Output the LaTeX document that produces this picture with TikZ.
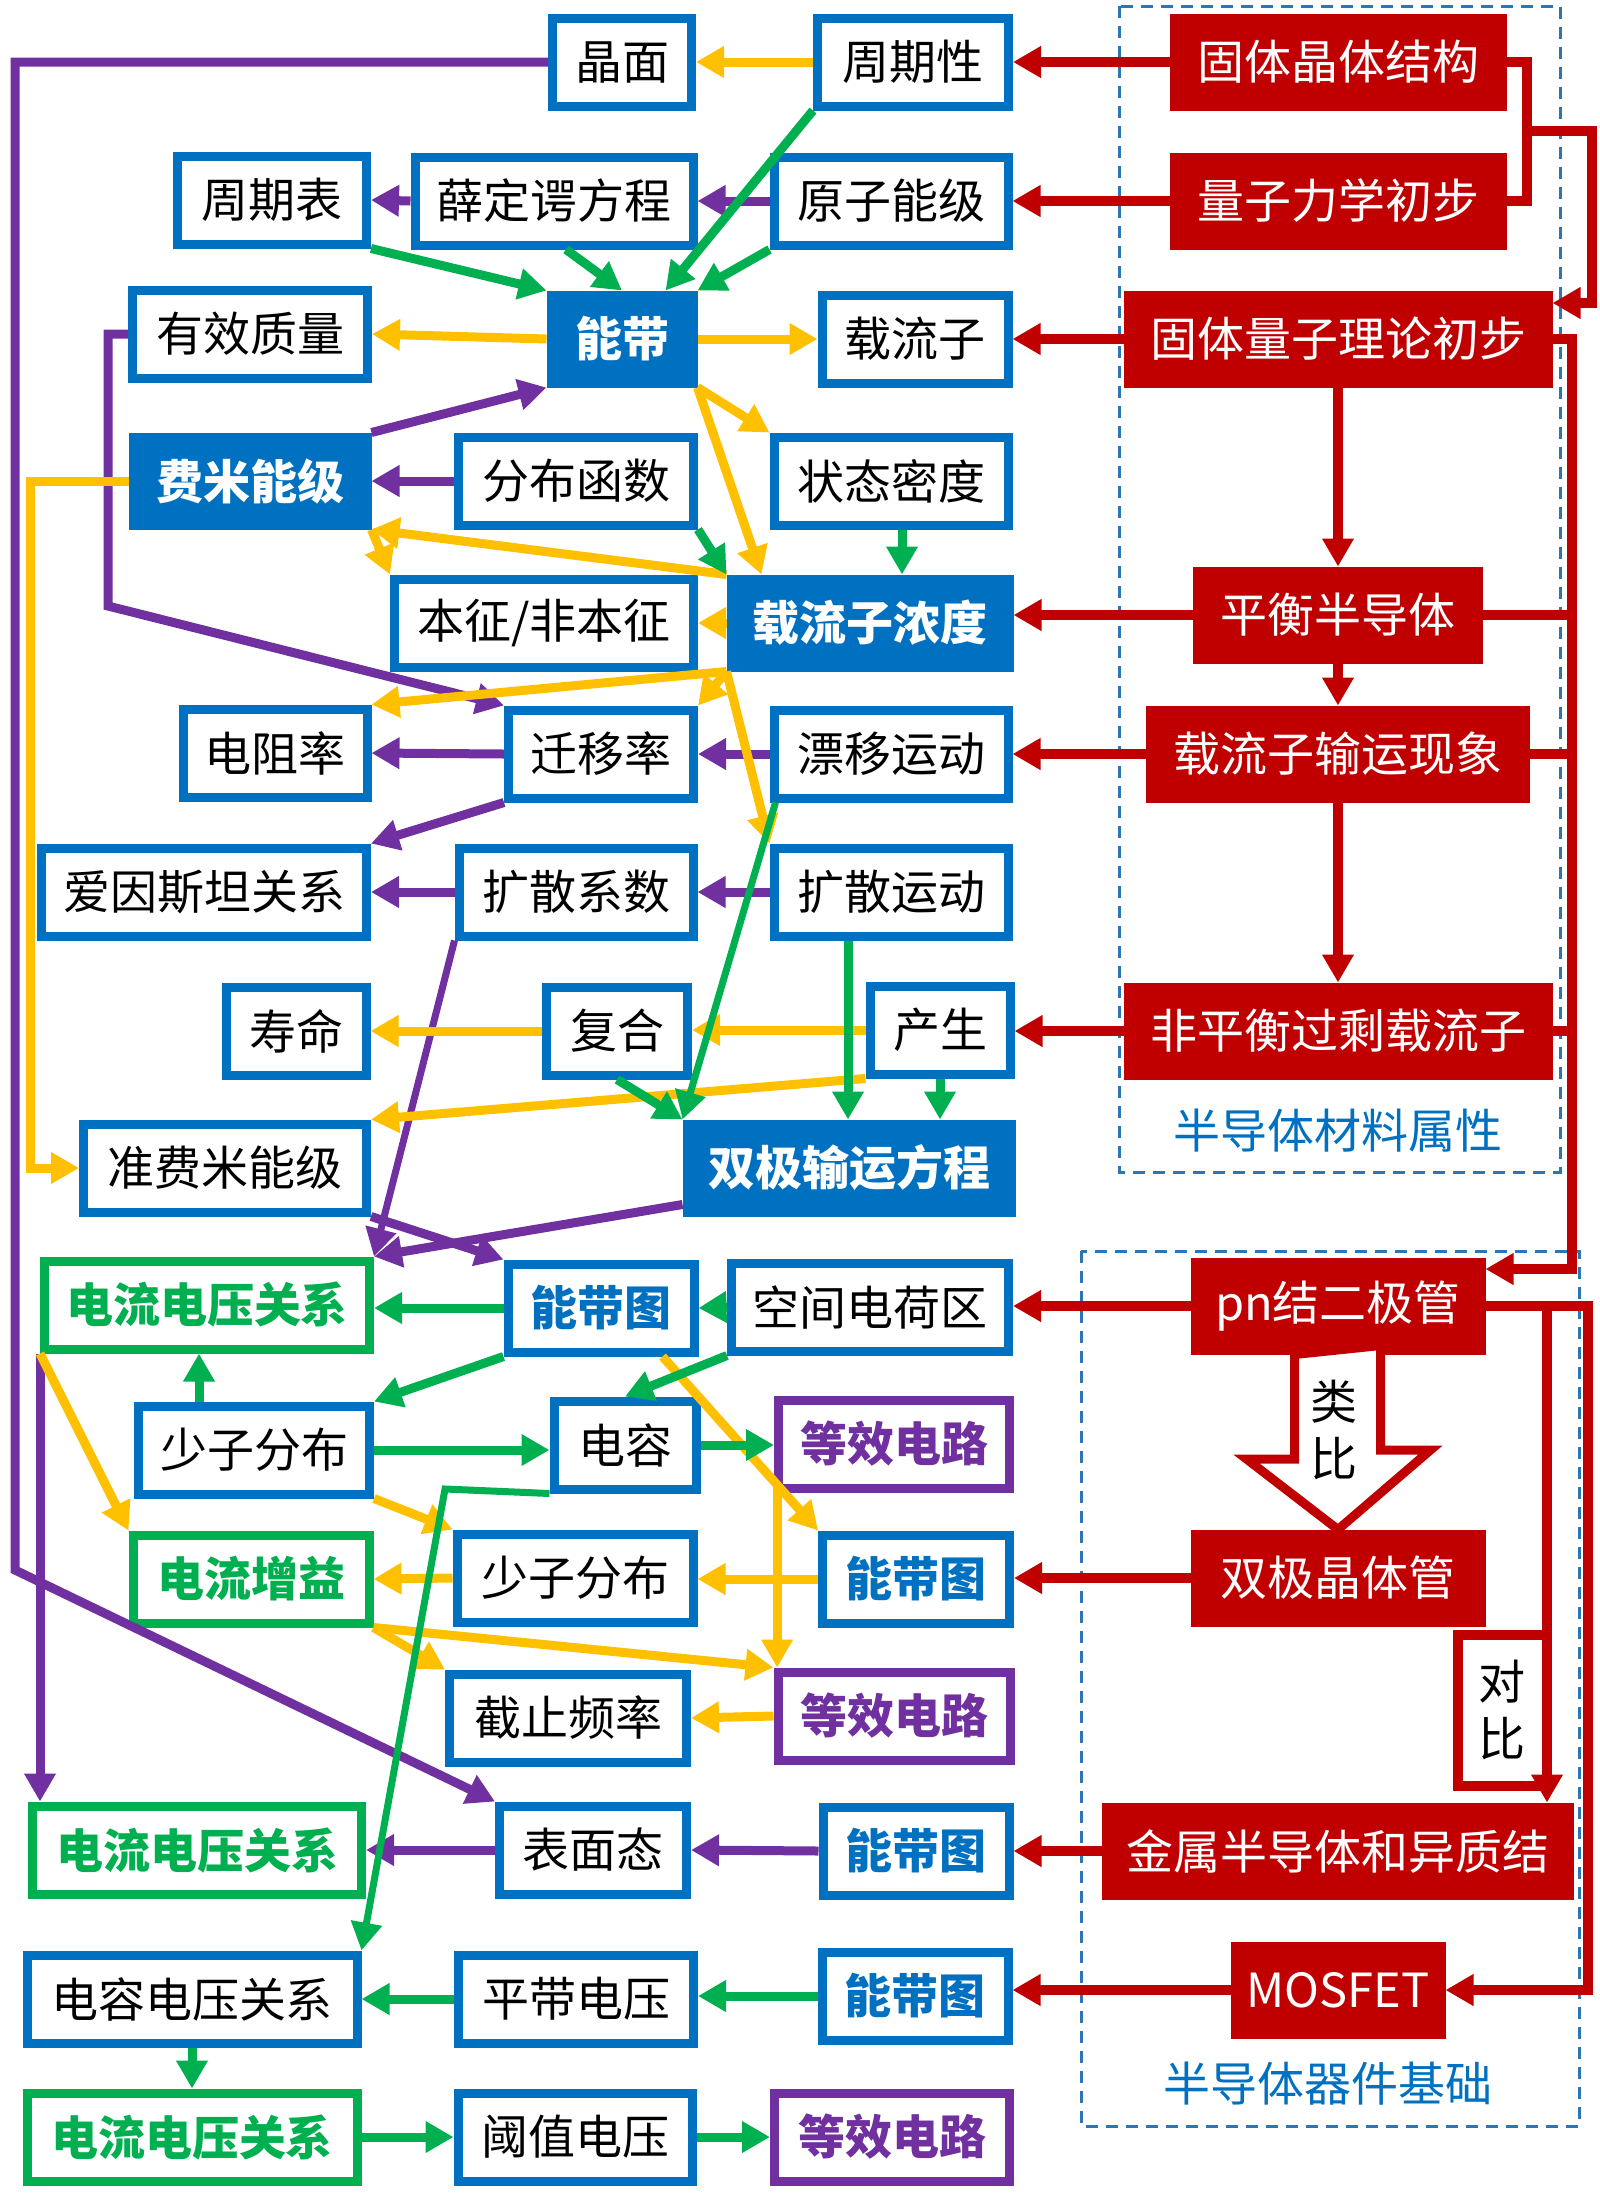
\documentclass[tikz,border=0pt]{standalone}
\usepackage{fontspec}
\setmainfont{Noto Sans CJK SC}
\usetikzlibrary{positioning,arrows.meta,calc}

\definecolor{myblue}{HTML}{0070C0}
\definecolor{myred}{HTML}{C00000}
\definecolor{mygreen}{HTML}{00B050}
\definecolor{mypurple}{HTML}{7030A0}
\definecolor{myyellow}{HTML}{FFC000}
\definecolor{dashblue}{HTML}{2E75B6}

\newcommand{\boxfont}{\fontsize{23.5}{28.5}\selectfont}

\tikzset{
  wd/.style={minimum width={(#1-9)*0.5pt}},
  box/.style={draw=myblue, line width=4.5pt, fill=white, inner sep=0pt, align=center, minimum height=44pt, font=\boxfont},
  bandbox/.style={box, text=myblue, font=\boxfont\bfseries},
  keybox/.style={box, fill=myblue, text=white, font=\boxfont\bfseries},
  gbox/.style={box, draw=mygreen, text=mygreen, font=\boxfont\bfseries},
  pbox/.style={box, draw=mypurple, text=mypurple, font=\boxfont\bfseries},
  redbox/.style={box, draw=myred, fill=myred, text=white},
  grouplbl/.style={text=myblue, font=\boxfont},
  hint/.style={align=center, font=\boxfont},
  dashbox/.style={draw=dashblue, line width=1.5pt, dash pattern=on 6pt off 4pt},
  yarr/.style={draw=myyellow, line width=4.5pt, -{Triangle[length=14pt,width=15pt]}},
  parr/.style={draw=mypurple, line width=4.5pt, -{Triangle[length=14pt,width=15pt]}},
  garr/.style={draw=mygreen, line width=4.5pt, -{Triangle[length=14pt,width=15pt]}},
  rarr/.style={draw=myred, line width=5pt, -{Triangle[length=14pt,width=15pt]}},
  rline/.style={draw=myred, line width=5pt}
}

\begin{document}
\begin{tikzpicture}[x=0.5pt,y=-0.5pt]
  \useasboundingbox (0,0) rectangle (1600,2196);

  % group frames
  \draw[dashbox] (1119,6) rectangle (1560,1172);
  \draw[dashbox] (1081,1251) rectangle (1579,2126);
  \node[grouplbl] (clsx) at (1338,1131) {半导体材料属性};
  \node[grouplbl] (qjjc) at (1328,2084) {半导体器件基础};

  % right column
  \node[redbox, wd=337] (gtjt) at (1338,62) {固体晶体结构};
  \node[redbox, wd=337] (lzlx) at (1338,201) {量子力学初步};
  \node[redbox, wd=429] (gtlz) at (1338,339) {固体量子理论初步};
  \node[redbox, wd=290] (phbdt) at (1338,615) {平衡半导体};
  \node[redbox, wd=384] (zlzsy) at (1338,754) {载流子输运现象};
  \node[redbox, wd=429] (fph) at (1338,1031) {非平衡过剩载流子};
  \node[redbox, wd=295] (pn) at (1338,1306) {pn结二极管};
  \node[redbox, wd=295] (sjjt) at (1338,1578) {双极晶体管};
  \node[redbox, wd=472] (jsbdt) at (1338,1851) {金属半导体和异质结};
  \node[redbox, wd=215] (mosfet) at (1338,1990) {MOSFET};

  % material part
  \node[box, wd=148] (jm) at (622,62) {晶面};
  \node[box, wd=200] (zqx) at (913,62) {周期性};
  \node[box, wd=198] (zqb) at (272,200) {周期表};
  \node[box, wd=287] (sdg) at (554,201) {薛定谔方程};
  \node[box, wd=243] (yznj) at (891,201) {原子能级};
  \node[box, wd=244] (yxzl) at (250,334) {有效质量};
  \node[keybox, wd=151] (nd) at (622,339) {能带};
  \node[box, wd=195] (zlz) at (915,339) {载流子};
  \node[keybox, wd=243] (fmnj) at (250,481) {费米能级};
  \node[box, wd=244] (fbhs) at (576,481) {分布函数};
  \node[box, wd=243] (ztmd) at (891,481) {状态密度};
  \node[box, wd=308] (bz) at (544,623) {本征/非本征};
  \node[keybox, wd=287] (zlznd) at (870,623) {载流子浓度};
  \node[box, wd=193] (dzl) at (275,753) {电阻率};
  \node[box, wd=194] (qyl) at (601,754) {迁移率};
  \node[box, wd=243] (pyyd) at (891,754) {漂移运动};
  \node[box, wd=334] (ays) at (204,892) {爱因斯坦关系};
  \node[box, wd=243] (ksxs) at (576,892) {扩散系数};
  \node[box, wd=243] (ksyd) at (891,892) {扩散运动};
  \node[box, wd=149] (sm) at (296,1031) {寿命};
  \node[box, wd=150] (fh) at (617,1031) {复合};
  \node[box, wd=149] (cs) at (940,1030) {产生};
  \node[box, wd=292] (zfm) at (225,1168) {准费米能级};
  \node[keybox, wd=333] (sjsy) at (849,1168) {双极输运方程};

  % device part
  \node[gbox, wd=334] (dlgx1) at (207,1305) {电流电压关系};
  \node[bandbox, wd=195] (ndt1) at (601,1308) {能带图};
  \node[box, wd=286] (kjdh) at (870,1307) {空间电荷区};
  \node[box, wd=240] (szfb1) at (254,1450) {少子分布};
  \node[box, wd=151] (dr) at (625,1445) {电容};
  \node[pbox, wd=240] (dxdl1) at (894,1444) {等效电路};
  \node[gbox, wd=245] (dlzy) at (251,1579) {电流增益};
  \node[box, wd=245] (szfb2) at (575,1578) {少子分布};
  \node[bandbox, wd=196] (ndt2) at (916,1579) {能带图};
  \node[box, wd=246] (jzpl) at (568,1718) {截止频率};
  \node[pbox, wd=241] (dxdl2) at (894,1716) {等效电路};
  \node[gbox, wd=338] (dlgx2) at (197,1850) {电流电压关系};
  \node[box, wd=196] (bmt) at (593,1850) {表面态};
  \node[bandbox, wd=195] (ndt3) at (916,1851) {能带图};
  \node[box, wd=339] (drdy) at (192,1999) {电容电压关系};
  \node[box, wd=244] (pddy) at (576,1999) {平带电压};
  \node[bandbox, wd=195] (ndt4) at (915,1996) {能带图};
  \node[gbox, wd=339] (dlgx3) at (192,2137) {电流电压关系};
  \node[box, wd=243] (yzdy) at (575,2137) {阈值电压};
  \node[pbox, wd=244] (dxdl3) at (892,2137) {等效电路};

  % analogy and comparison
  \draw[draw=myred, line width=4.5pt, fill=white] (pn.south) ++(-43.5,0) -- ++(0,104.5) -- ++(-48,0)
    -- (sjjt.north) -- ++(92.5,-79.5) -- ++(-50,0) -- ++(0,-104.5) -- cycle;
  \node[hint] (lb) at (1334,1430) {类\\比};
  \node[box, draw=myred, line width=5pt, minimum width=44.5pt, minimum height=75.5pt] (db) at (1502,1710) {对\\比};

  % red routing
  \coordinate (brk) at (1527,131);
  \coordinate (brk2) at (1592,131);
  \coordinate (rbus) at (1572,339);
  \coordinate (pnin) at ([yshift=18.5pt]pn.east);
  \coordinate (pnbus) at (1588,1307);
  \coordinate (dbbus) at (1547,1307);

  \foreach \from/\to in {gtjt.west/zqx.east, lzlx.west/yznj.east, gtlz.west/zlz.east,
      gtlz.south/phbdt.north, phbdt.south/zlzsy.north, zlzsy.south/fph.north}
    \draw[rarr] (\from) -- (\to);
  \foreach \from/\to in {phbdt.west/zlznd.east, zlzsy.west/pyyd.east, fph.west/cs.east,
      pn.west/kjdh.east, sjjt.west/ndt2.east, jsbdt.west/ndt3.east, mosfet.west/ndt4.east}
    \draw[rarr] (\from) -- (\from -| \to);
  \draw[rline] (gtjt.east) -| (brk) |- (lzlx.east);
  \draw[rarr] (brk) -- (brk2) |- ([yshift=18pt]gtlz.east);
  \draw[rarr] (gtlz.east) -| (pnin -| rbus) -- (pnin);
  \foreach \n in {phbdt, zlzsy, fph}
    \draw[rline] (\n.east) -- (\n.east -| rbus);
  \draw[rarr] (pn.east) -| (pnbus |- mosfet.east) -- (mosfet.east);
  \draw[rarr] (dbbus) -- (dbbus |- jsbdt.north);

  % purple
  \coordinate (lpa) at (108,606);
  \coordinate (lpb) at (15,1570);
  \foreach \from/\to in {yznj.west/sdg.east, sdg.west/zqb.east, fmnj.north east/nd.south west,
      fbhs.west/fmnj.east, qyl.west/dzl.east, pyyd.west/qyl.east, qyl.south west/ays.north east,
      ksxs.west/ays.east, ksyd.west/ksxs.east, zfm.south east/ndt1.north west, ndt3.west/bmt.east}
    \draw[parr] (\from) -- (\to);
  \draw[parr] (jm.west) -| (lpb) -- (bmt.north west);
  \draw[parr] (yxzl.west) -| (lpa) -- (qyl.north west);
  \draw[parr, line width=3.5pt] (ksxs.south west) -- (dlgx1.north east);
  \draw[parr] ([yshift=6pt]sjsy.south west) -- (dlgx1.north east);
  \draw[parr] (dlgx1.south west) -- (dlgx1.south west |- dlgx2.north);
  \draw[parr] (bmt.west) -- (bmt.west -| dlgx2.east);

  % yellow
  \coordinate (lyb) at (30,1168);
  \coordinate (ybs) at ([xshift=-18pt]ndt1.south east);
  \coordinate (ybr) at ($(ybs)!0.737!(ndt2.north west)$);
  \foreach \from/\to in {zqx.west/jm.east, nd.west/yxzl.east, nd.east/zlz.west, nd.south east/ztmd.north west,
      zlznd.north west/fmnj.south east, fmnj.south east/bz.north west, zlznd.west/bz.east,
      zlznd.south west/dzl.north east, zlznd.south west/qyl.north east, zlznd.south west/ksyd.north west,
      fh.west/sm.east, cs.south west/zfm.north east, dlgx1.south west/dlzy.north west,
      szfb1.south east/szfb2.north west, szfb2.west/dlzy.east, dlzy.south east/jzpl.north west,
      dlzy.south east/dxdl2.north west, dxdl2.west/jzpl.east}
    \draw[yarr] (\from) -- (\to);
  \draw[yarr] (nd.south east) -- ([xshift=17.5pt]zlznd.north west);
  \draw[yarr] (cs.west) -- (cs.west -| fh.east);
  \draw[yarr] (fmnj.west) -| (lyb) -- (zfm.west);
  \draw[yarr] (ybs) -- (ndt2.north west);
  \draw[yarr] (ybr) -- (ybr |- dxdl2.north);
  \draw[yarr] (ndt2.west) -- (ndt2.west -| szfb2.east);

  % green
  \coordinate (gbk) at (445,1489);
  \foreach \from/\to in {zqb.south east/nd.north west, yznj.south west/nd.north east,
      fbhs.south east/zlznd.north west, kjdh.west/ndt1.east, ndt1.south west/szfb1.north east,
      kjdh.south west/dr.north, pddy.west/drdy.east, dlgx3.east/yzdy.west, yzdy.east/dxdl3.west,
      fh.south/sjsy.north west, drdy.south/dlgx3.north}
    \draw[garr] (\from) -- (\to);
  \draw[garr] (zqx.south west) -- ([xshift=-16pt]nd.north east);
  \draw[garr] ([xshift=6pt]sdg.south) -- (nd.north);
  \draw[garr] ([xshift=5.5pt]ztmd.south) -- ([xshift=5.5pt]ztmd.south |- zlznd.north);
  \draw[garr, line width=3.5pt] ([xshift=3pt]pyyd.south west) -- (sjsy.north west);
  \draw[garr] ([xshift=-21.5pt]ksyd.south) -- ([xshift=-21.5pt]ksyd.south |- sjsy.north);
  \draw[garr] (cs.south) -- (cs.south |- sjsy.north);
  \draw[garr] (ndt1.west) -- (ndt1.west -| dlgx1.east);
  \draw[garr] ([xshift=-27.5pt]szfb1.north) -- ([xshift=-27.5pt]szfb1.north |- dlgx1.south);
  \draw[garr] (szfb1.east) -- (szfb1.east -| dr.west);
  \draw[garr] (dr.east) -- (dr.east -| dxdl1.west);
  \draw[garr, line width=3.5pt] (dr.south west) -- (gbk) -- (drdy.north east);
  \draw[garr] (ndt4.west) -- (ndt4.west -| pddy.east);
\end{tikzpicture}
\end{document}
